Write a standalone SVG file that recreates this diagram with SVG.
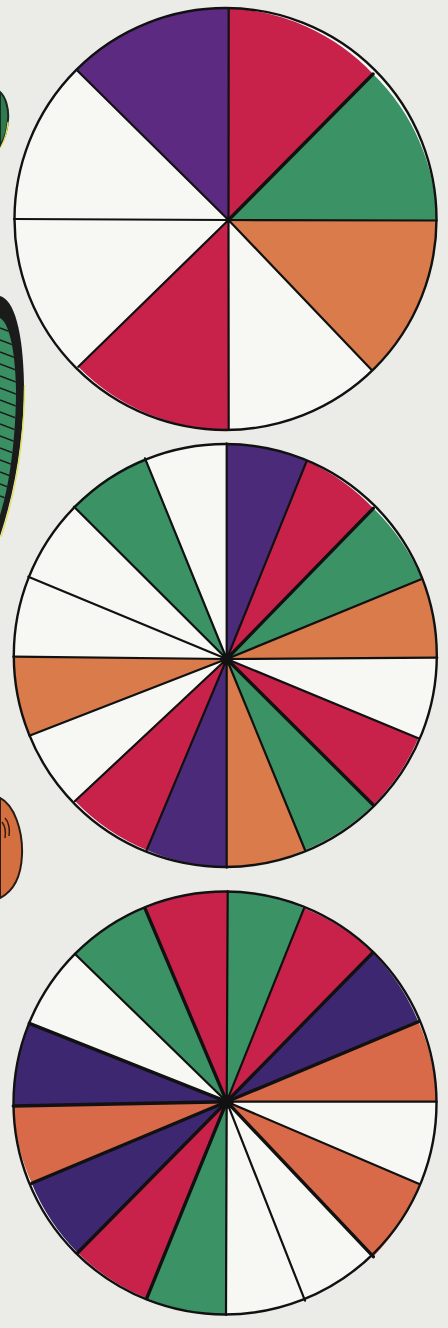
<svg xmlns="http://www.w3.org/2000/svg" width="448" height="1328" viewBox="0 0 448 1328">
<defs>
<style>
.r{fill:#c8224b}.g{fill:#3b9265}.o{fill:#d97b4b}.o3{fill:#d86a4a}.w{fill:#f7f7f4}.p1{fill:#5c2a80}.p2{fill:#4c2a7a}.p3{fill:#3c2770}
.ln{stroke:#111;stroke-width:2.2;fill:none;stroke-linecap:round}
.lt{stroke:#111;stroke-width:3.4;fill:none;stroke-linecap:round}
.rim{fill:none;stroke:#111;stroke-width:2.4}
</style>
<clipPath id="greenclip"><path d="M0,318 C8,322 15,345 16,390 C16,430 11,480 0,515 Z"/></clipPath>
</defs>
<rect x="0" y="0" width="448" height="1328" fill="#ebebe8"/>

<g id="edge-objects">
<path d="M0,92 C6,97 9,110 8,120 C7,132 4,140 0,146 Z" fill="#2f7a50" stroke="#1a2a1e" stroke-width="2"/>
<path d="M8,122 C7,134 4,141 1,147" fill="none" stroke="#e6e64a" stroke-width="1.2"/>
<path d="M0,296 C14,300 23,330 24,385 C24,430 17,485 0,536 Z" fill="#1b1b1b"/>
<path d="M24.5,385 C24.5,430 18,485 1,537" fill="none" stroke="#e2e24a" stroke-width="1.2"/>
<path d="M0,318 C8,322 15,345 16,390 C16,430 11,480 0,515 Z" fill="#3a9063"/>
<g clip-path="url(#greenclip)" stroke="#1b1b1b" stroke-width="1.6">
<line x1="0" y1="328" x2="16" y2="334"/><line x1="0" y1="340" x2="16" y2="346"/><line x1="0" y1="352" x2="16" y2="358"/>
<line x1="0" y1="364" x2="16" y2="370"/><line x1="0" y1="376" x2="16" y2="382"/><line x1="0" y1="388" x2="16" y2="394"/>
<line x1="0" y1="400" x2="16" y2="406"/><line x1="0" y1="412" x2="16" y2="418"/><line x1="0" y1="424" x2="16" y2="430"/>
<line x1="0" y1="436" x2="16" y2="442"/><line x1="0" y1="448" x2="16" y2="454"/><line x1="0" y1="460" x2="16" y2="466"/>
<line x1="0" y1="472" x2="16" y2="478"/><line x1="0" y1="484" x2="16" y2="490"/><line x1="0" y1="496" x2="16" y2="502"/>
</g>
<path d="M0,798 C14,805 23,830 22,855 C21,878 12,892 0,898 Z" fill="#d4703f" stroke="#2a1a14" stroke-width="2"/>
<path d="M2,822 C5,826 6,832 5,838" fill="none" stroke="#3a1a10" stroke-width="1.5"/>
<path d="M5,818 C9,822 10,830 9,836" fill="none" stroke="#3a1a10" stroke-width="1.5"/>
</g>

<g id="pie1">
<circle cx="225.5" cy="219" r="211" class="w"/>
<path class="r" d="M228.5,220 L228.7,8.3 A211,211 0 0 1 373,74 Z"/>
<path class="g" d="M228.5,220 L373,74 A211,211 0 0 1 436.7,220.5 Z"/>
<path class="o" d="M228.5,220 L436.7,220.5 A211,211 0 0 1 371.7,370 Z"/>
<path class="r" d="M228.5,220 L228.7,430 A211,211 0 0 1 78.3,366.7 Z"/>
<path class="p1" d="M228.5,220 L76.7,70 A211,211 0 0 1 228.7,8.3 Z"/>
<g class="ln">
<line x1="228.5" y1="220" x2="228.7" y2="8.3"/>
<line x1="228.5" y1="220" x2="436.7" y2="220.5"/>
<line x1="228.5" y1="220" x2="371.7" y2="370"/>
<line x1="228.5" y1="220" x2="228.7" y2="430"/>
<line x1="228.5" y1="220" x2="78.3" y2="366.7"/>
<line x1="228.5" y1="220" x2="14" y2="219"/>
<line x1="228.5" y1="220" x2="76.7" y2="70"/>
</g>
<line class="lt" x1="228.5" y1="220" x2="373" y2="74"/>
<circle cx="225.5" cy="219" r="211" class="rim"/>
<circle cx="228.5" cy="220" r="3" fill="#111"/>
</g>

<g id="pie2">
<circle cx="225.3" cy="655.5" r="211.5" class="w"/>
<path class="p2" d="M226.7,659 L226.7,443.3 A211.5,211.5 0 0 1 306.7,461 Z"/>
<path class="r" d="M226.7,659 L306.7,461 A211.5,211.5 0 0 1 373.3,508.3 Z"/>
<path class="g" d="M226.7,659 L373.3,508.3 A211.5,211.5 0 0 1 421.7,579 Z"/>
<path class="o" d="M226.7,659 L421.7,579 A211.5,211.5 0 0 1 437.3,657.7 Z"/>
<path class="r" d="M226.7,659 L418.3,738.3 A211.5,211.5 0 0 1 373.3,805 Z"/>
<path class="g" d="M226.7,659 L373.3,805 A211.5,211.5 0 0 1 305,850 Z"/>
<path class="o" d="M226.7,659 L305,850 A211.5,211.5 0 0 1 226.7,867.7 Z"/>
<path class="p2" d="M226.7,659 L226.7,867.7 A211.5,211.5 0 0 1 146.7,850 Z"/>
<path class="r" d="M226.7,659 L146.7,850 A211.5,211.5 0 0 1 75,801 Z"/>
<path class="o" d="M226.7,659 L29.3,735.7 A211.5,211.5 0 0 1 13.3,656.7 Z"/>
<path class="g" d="M226.7,659 L74,506.7 A211.5,211.5 0 0 1 145,458.3 Z"/>
<g class="ln">
<line x1="226.7" y1="659" x2="226.7" y2="443.3"/>
<line x1="226.7" y1="659" x2="306.7" y2="461"/>
<line x1="226.7" y1="659" x2="421.7" y2="579"/>
<line x1="226.7" y1="659" x2="437.3" y2="657.7"/>
<line x1="226.7" y1="659" x2="418.3" y2="738.3"/>
<line x1="226.7" y1="659" x2="305" y2="850"/>
<line x1="226.7" y1="659" x2="226.7" y2="867.7"/>
<line x1="226.7" y1="659" x2="146.7" y2="850"/>
<line x1="226.7" y1="659" x2="75" y2="801"/>
<line x1="226.7" y1="659" x2="29.3" y2="735.7"/>
<line x1="226.7" y1="659" x2="13.3" y2="656.7"/>
<line x1="226.7" y1="659" x2="28.3" y2="576.7"/>
<line x1="226.7" y1="659" x2="74" y2="506.7"/>
<line x1="226.7" y1="659" x2="145" y2="458.3"/>
</g>
<line class="lt" x1="226.7" y1="659" x2="373.3" y2="508.3"/>
<line class="lt" x1="226.7" y1="659" x2="373.3" y2="805"/>
<circle cx="225.3" cy="655.5" r="211.5" class="rim"/>
<circle cx="226.7" cy="659" r="6" fill="#111"/>
</g>

<g id="pie3">
<circle cx="225" cy="1103" r="211.5" class="w"/>
<path class="g" d="M226.7,1101.7 L227.7,891 A211.5,211.5 0 0 1 304,908.3 Z"/>
<path class="r" d="M226.7,1101.7 L304,908.3 A211.5,211.5 0 0 1 372.7,952.7 Z"/>
<path class="p3" d="M226.7,1101.7 L372.7,952.7 A211.5,211.5 0 0 1 418.3,1021.7 Z"/>
<path class="o3" d="M226.7,1101.7 L418.3,1021.7 A211.5,211.5 0 0 1 436.7,1101.7 Z"/>
<path class="o3" d="M226.7,1101.7 L419.3,1184 A211.5,211.5 0 0 1 373.3,1256.7 Z"/>
<path class="g" d="M226.7,1101.7 L226,1315 A211.5,211.5 0 0 1 146.7,1298.3 Z"/>
<path class="r" d="M226.7,1101.7 L146.7,1298.3 A211.5,211.5 0 0 1 77.7,1252.7 Z"/>
<path class="p3" d="M226.7,1101.7 L77.7,1252.7 A211.5,211.5 0 0 1 31.7,1183.3 Z"/>
<path class="o3" d="M226.7,1101.7 L31.7,1183.3 A211.5,211.5 0 0 1 13.3,1106 Z"/>
<path class="p3" d="M226.7,1101.7 L13.3,1106 A211.5,211.5 0 0 1 29.3,1023.3 Z"/>
<path class="g" d="M226.7,1101.7 L75,954 A211.5,211.5 0 0 1 145,908.3 Z"/>
<path class="r" d="M226.7,1101.7 L145,908.3 A211.5,211.5 0 0 1 227.7,891 Z"/>
<g class="ln">
<line x1="226.7" y1="1101.7" x2="227.7" y2="891"/>
<line x1="226.7" y1="1101.7" x2="304" y2="908.3"/>
<line x1="226.7" y1="1101.7" x2="436.7" y2="1101.7"/>
<line x1="226.7" y1="1101.7" x2="419.3" y2="1184"/>
<line x1="226.7" y1="1101.7" x2="305" y2="1300.7"/>
<line x1="226.7" y1="1101.7" x2="226" y2="1315"/>
<line x1="226.7" y1="1101.7" x2="75" y2="954"/>
</g>
<g class="lt">
<line x1="226.7" y1="1101.7" x2="372.7" y2="952.7"/>
<line x1="226.7" y1="1101.7" x2="418.3" y2="1021.7"/>
<line x1="226.7" y1="1101.7" x2="373.3" y2="1256.7"/>
<line x1="226.7" y1="1101.7" x2="146.7" y2="1298.3"/>
<line x1="226.7" y1="1101.7" x2="77.7" y2="1252.7"/>
<line x1="226.7" y1="1101.7" x2="31.7" y2="1183.3"/>
<line x1="226.7" y1="1101.7" x2="13.3" y2="1106"/>
<line x1="226.7" y1="1101.7" x2="29.3" y2="1023.3"/>
<line x1="226.7" y1="1101.7" x2="145" y2="908.3"/>
</g>
<circle cx="225" cy="1103" r="211.5" class="rim"/>
<circle cx="226.7" cy="1101.7" r="7" fill="#111"/>
</g>
</svg>
